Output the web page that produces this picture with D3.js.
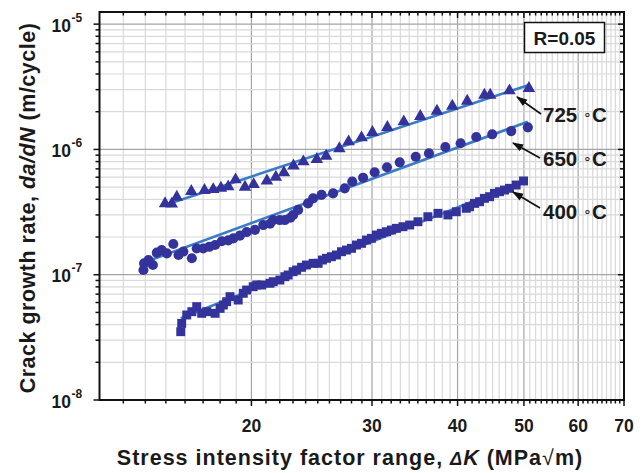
<!DOCTYPE html>
<html>
<head>
<meta charset="utf-8">
<script src="https://cdn.jsdelivr.net/npm/d3@7"></script>
<style>
  body { margin: 0; background: #fff; }
  text { font-family: "Liberation Sans", Arial, sans-serif; font-weight: bold; fill: #1a1a1a; }
</style>
</head>
<body>
<svg id="chart" width="644" height="473"></svg>
<script>
// 400 C (squares)
const dk400 = [15.77, 15.82, 16.09, 16.37, 16.64, 16.92, 17.21, 17.70, 18.00, 18.20, 18.40, 18.61, 19.13, 19.46, 19.68, 20.12, 20.36, 20.70, 21.29, 21.52, 22.01, 22.38, 22.63, 23.01, 23.28, 23.67, 24.06, 24.61, 25.03, 25.39, 25.74, 26.17, 26.62, 27.07, 27.53, 28.00, 28.47, 28.96, 29.45, 29.94, 30.45, 30.96, 31.49, 32.02, 32.56, 33.29, 34.05, 35.01, 36.20, 37.45, 38.72, 39.83, 41.19, 41.64, 42.35, 43.07, 43.78, 44.55, 45.28, 46.05, 46.84, 47.63, 48.71, 49.93];
const rate400 = [3.51e-8, 4.09e-8, 4.77e-8, 5.07e-8, 5.56e-8, 4.92e-8, 5.07e-8, 4.92e-8, 5.39e-8, 5.73e-8, 6.09e-8, 6.68e-8, 6.28e-8, 7.11e-8, 7.55e-8, 8.02e-8, 8.28e-8, 8.28e-8, 8.54e-8, 8.79e-8, 9.07e-8, 9.64e-8, 9.95e-8, 1.057e-7, 1.09e-7, 1.146e-7, 1.195e-7, 1.233e-7, 1.233e-7, 1.31e-7, 1.352e-7, 1.392e-7, 1.437e-7, 1.526e-7, 1.574e-7, 1.624e-7, 1.726e-7, 1.781e-7, 1.892e-7, 1.952e-7, 2.074e-7, 2.14e-7, 2.204e-7, 2.274e-7, 2.346e-7, 2.416e-7, 2.493e-7, 2.649e-7, 2.903e-7, 3.09e-7, 3.0e-7, 3.18e-7, 3.39e-7, 3.488e-7, 3.71e-7, 3.824e-7, 4.07e-7, 4.194e-7, 4.46e-7, 4.597e-7, 4.74e-7, 4.893e-7, 5.2e-7, 5.6e-7];

// 650 C (circles)
const dk650 = [13.91, 13.94, 14.15, 14.36, 14.55, 14.79, 15.05, 15.38, 15.65, 15.91, 16.37, 16.64, 17.01, 17.36, 17.70, 18.10, 18.50, 18.82, 19.24, 19.68, 20.24, 20.81, 21.29, 21.52, 22.00, 22.38, 22.80, 23.01, 23.40, 24.19, 24.61, 25.32, 26.32, 27.37, 28.07, 29.11, 30.27, 31.55, 32.93, 34.75, 36.33, 38.39, 40.41, 42.59, 44.94, 47.91, 50.66];
const rate650 = [1.09e-7, 1.233e-7, 1.31e-7, 1.195e-7, 1.50e-7, 1.574e-7, 1.48e-7, 1.76e-7, 1.437e-7, 1.53e-7, 1.352e-7, 1.62e-7, 1.62e-7, 1.67e-7, 1.726e-7, 1.85e-7, 1.88e-7, 1.95e-7, 2.05e-7, 2.19e-7, 2.28e-7, 2.49e-7, 2.55e-7, 2.73e-7, 2.73e-7, 2.73e-7, 2.85e-7, 3.0e-7, 3.29e-7, 3.71e-7, 4.07e-7, 4.34e-7, 4.46e-7, 4.89e-7, 5.54e-7, 5.95e-7, 6.57e-7, 7.2e-7, 7.89e-7, 8.75e-7, 9.31e-7, 1.045e-6, 1.12e-6, 1.256e-6, 1.32e-6, 1.40e-6, 1.50e-6];

// 725 C (triangles)
const dk725 = [14.96, 15.30, 15.56, 16.34, 17.08, 17.59, 18.05, 18.50, 18.96, 19.57, 20.15, 21.07, 21.71, 22.31, 23.04, 23.82, 24.92, 25.71, 26.88, 27.73, 28.96, 30.04, 31.59, 33.38, 35.29, 37.32, 39.30, 41.32, 43.78, 44.64, 47.63, 50.84];
const rate725 = [3.70e-7, 3.67e-7, 4.17e-7, 4.63e-7, 4.72e-7, 4.79e-7, 4.92e-7, 5.04e-7, 5.74e-7, 5.01e-7, 5.25e-7, 5.62e-7, 6.02e-7, 6.52e-7, 7.40e-7, 7.98e-7, 8.34e-7, 8.86e-7, 1.017e-6, 1.152e-6, 1.24e-6, 1.369e-6, 1.501e-6, 1.664e-6, 1.838e-6, 2.026e-6, 2.221e-6, 2.434e-6, 2.718e-6, 2.718e-6, 2.941e-6, 3.074e-6];

// fitted power-law lines: [start, end]
const fitDk400 = [15.77, 49.93], fitRate400 = [4.49e-8, 5.6e-7];
const fitDk650 = [13.83, 50.66], fitRate650 = [1.233e-7, 1.664e-6];
const fitDk725 = [14.96, 50.84], fitRate725 = [3.60e-7, 3.27e-6];

const xTickLabels = [20, 30, 40, 50, 60, 70];
const yTickLabels = [1e-8, 1e-7, 1e-6, 1e-5];
const seriesNames = ["725", "650", "400"];

const svg = d3.select("#chart");
const pLeft = 99.5, pRight = 624, pTop = 12, pBottom = 400;
const markColor = "#33339b";
const lineColor = "#3b7cc6";

const x = d3.scaleLog().domain([12, 70]).range([pLeft, pRight]);
const y = d3.scaleLog().domain([1e-8, 1.25e-5]).range([pBottom, pTop]);

// minor / major positions
const xMinor = d3.range(13, 71);
const yMinor = [];
for (let e = -8; e <= -5; e++) {
    for (let k = 1; k <= 9; k++) {
        const v = k * Math.pow(10, e);
        if (v <= 1.25e-5) yMinor.push(v);
    }
}

// gridlines
const grid = svg.append("g");
grid.selectAll(".vg").data(xMinor.filter(d => d < 70)).join("line")
    .attr("x1", d => x(d)).attr("x2", d => x(d))
    .attr("y1", pTop).attr("y2", pBottom)
    .attr("stroke", d => xTickLabels.includes(d) ? "#a5a5a5" : "#d9d9d9")
    .attr("stroke-width", 1.2);
grid.selectAll(".hg").data(yMinor.filter(d => d > 1e-8)).join("line")
    .attr("x1", pLeft).attr("x2", pRight)
    .attr("y1", d => y(d)).attr("y2", d => y(d))
    .attr("stroke", d => yTickLabels.includes(d) ? "#a5a5a5" : "#d9d9d9")
    .attr("stroke-width", 1.2);

// fitted lines
const fits = [[fitDk725, fitRate725], [fitDk650, fitRate650], [fitDk400, fitRate400]];
svg.append("g").selectAll("line").data(fits).join("line")
    .attr("x1", d => x(d[0][0])).attr("y1", d => y(d[1][0]))
    .attr("x2", d => x(d[0][1])).attr("y2", d => y(d[1][1]))
    .attr("stroke", lineColor).attr("stroke-width", 2.6);

// markers
function drawSeries(dks, rates, type, size) {
    const sym = d3.symbol().type(type).size(size);
    svg.append("g").selectAll("path").data(d3.zip(dks, rates)).join("path")
        .attr("d", sym)
        .attr("transform", d => `translate(${x(d[0])},${y(d[1])})`)
        .attr("fill", markColor);
}
drawSeries(dk400, rate400, d3.symbolSquare, 80);
drawSeries(dk650, rate650, d3.symbolCircle, 80);
drawSeries(dk725, rate725, d3.symbolTriangle, 68);

// frame
svg.append("rect").attr("x", pLeft).attr("y", pTop)
    .attr("width", pRight - pLeft).attr("height", pBottom - pTop)
    .attr("fill", "none").attr("stroke", "#111").attr("stroke-width", 2);

// axes ticks
const isMajX = d => xTickLabels.includes(d);
const isMajY = d => yTickLabels.includes(d);
const ticks = svg.append("g").attr("stroke", "#111").attr("stroke-width", 1.5);
// bottom (outward) and top (inward)
ticks.selectAll(".bt").data(xMinor).join("line")
    .attr("x1", d => x(d)).attr("x2", d => x(d))
    .attr("y1", pBottom).attr("y2", d => pBottom + (isMajX(d) ? 6 : 3.5));
ticks.selectAll(".tt").data(xMinor).join("line")
    .attr("x1", d => x(d)).attr("x2", d => x(d))
    .attr("y1", pTop).attr("y2", d => pTop + (isMajX(d) ? 6 : 3.5));
// left (outward) and right (inward)
ticks.selectAll(".lt").data(yMinor).join("line")
    .attr("y1", d => y(d)).attr("y2", d => y(d))
    .attr("x1", pLeft).attr("x2", d => pLeft - (isMajY(d) ? 6 : 4));
ticks.selectAll(".rt").data(yMinor).join("line")
    .attr("y1", d => y(d)).attr("y2", d => y(d))
    .attr("x1", pRight).attr("x2", d => pRight - (isMajY(d) ? 6 : 4));

// tick labels
svg.append("g").selectAll("text").data(xTickLabels).join("text")
    .attr("x", d => x(d)).attr("y", 432)
    .attr("text-anchor", "middle").attr("font-size", 17.5)
    .text(d => d);

const yl = svg.append("g").selectAll("text").data(yTickLabels).join("text")
    .attr("x", 71).attr("y", d => y(d) + 7.5)
    .attr("text-anchor", "end").attr("font-size", 17.5);
yl.append("tspan").text("10");
yl.append("tspan").attr("font-size", 12).attr("dy", -10).attr("x", 71.5)
    .attr("text-anchor", "start")
    .text(d => "-" + Math.round(-Math.log10(d)));

// axis titles
const yt = svg.append("text")
    .attr("transform", "translate(35,208) rotate(-90)")
    .attr("text-anchor", "middle").attr("font-size", 21.5)
    .attr("letter-spacing", 0.5);
yt.append("tspan").text("Crack growth rate,  ");
yt.append("tspan").attr("font-style", "italic").text("da/dN");
yt.append("tspan").text(" (m/cycle)");

const xt = svg.append("text")
    .attr("x", 350).attr("y", 464.5)
    .attr("text-anchor", "middle").attr("font-size", 21.5)
    .attr("letter-spacing", 1);
xt.append("tspan").text("Stress intensity factor range, ");
xt.append("tspan").attr("font-style", "italic").attr("font-size", 18).text("Δ");
xt.append("tspan").attr("font-style", "italic").text("K");
xt.append("tspan").text(" (MPa");
xt.append("tspan").attr("font-weight", "normal").text("√");
xt.append("tspan").text("m)");

// R box
svg.append("rect").attr("x", 524.5).attr("y", 22.5).attr("width", 80).attr("height", 30)
    .attr("fill", "#fff").attr("stroke", "#111").attr("stroke-width", 1.5);
svg.append("text").attr("x", 564.5).attr("y", 45).attr("text-anchor", "middle")
    .attr("font-size", 19).text("R=0.05");

// series labels with arrows
const labelPos = [
    { name: seriesNames[0], tx: 543, ty: 122, ax: 541, ay: 114, bx: 517, by: 97 },
    { name: seriesNames[1], tx: 543, ty: 166, ax: 540, ay: 158, bx: 513, by: 143 },
    { name: seriesNames[2], tx: 543, ty: 219, ax: 540, ay: 208, bx: 513, by: 192 }
];
svg.append("defs").append("marker")
    .attr("id", "ah").attr("viewBox", "0 0 10 10").attr("refX", 9).attr("refY", 5)
    .attr("markerWidth", 7).attr("markerHeight", 7).attr("orient", "auto")
    .append("path").attr("d", "M0,1.5L10,5L0,8.5z").attr("fill", "#111");
svg.append("g").selectAll("line").data(labelPos).join("line")
    .attr("x1", d => d.ax).attr("y1", d => d.ay).attr("x2", d => d.bx).attr("y2", d => d.by)
    .attr("stroke", "#111").attr("stroke-width", 1.6).attr("marker-end", "url(#ah)");
const lt = svg.append("g").selectAll("text").data(labelPos).join("text")
    .attr("x", d => d.tx).attr("y", d => d.ty).attr("font-size", 20.5);
lt.append("tspan").text(d => d.name + " ");
lt.append("tspan").attr("font-weight", "normal").attr("font-size", 14).attr("dy", -3).text("∘");
lt.append("tspan").attr("dy", 3).text("C");
</script>
</body>
</html>
